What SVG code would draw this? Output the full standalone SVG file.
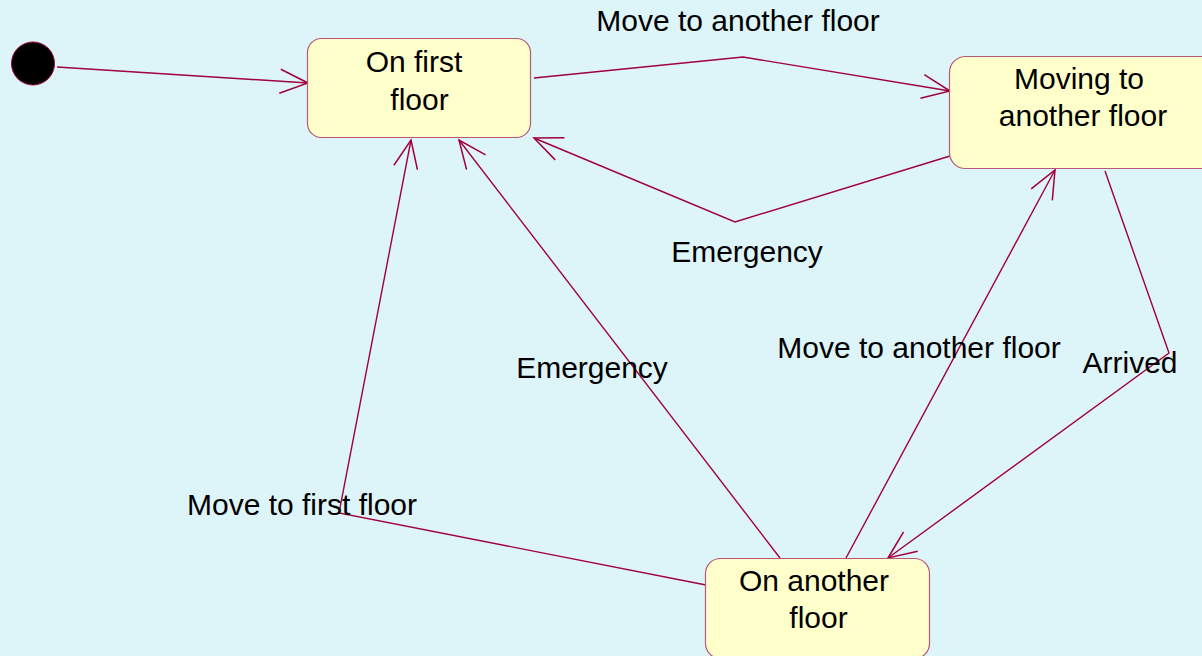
<svg xmlns="http://www.w3.org/2000/svg" width="1202" height="656" viewBox="0 0 1202 656">
  <defs>
    <style>
      .state { fill: #FFFFCC; stroke: #B8577A; stroke-width: 1.2; }
      .txt { font-family: "Liberation Sans", Arial, sans-serif; font-size: 30px; fill: #000; text-anchor: middle; }
      .edge { fill: none; stroke: #A0003C; stroke-width: 1.4; stroke-linejoin: miter; }
    </style>
    <marker id="open" markerUnits="userSpaceOnUse" markerWidth="40" markerHeight="40" viewBox="-35 -20 40 40" refX="0" refY="0" orient="auto" overflow="visible">
      <path d="M -28 -12 L 0 0 L -28 12" fill="none" stroke="#A0003C" stroke-width="1.5"/>
    </marker>
  </defs>

  <!-- canvas -->
  <rect x="0" y="0" width="1202" height="656" fill="#DDF4F9"/>

  <!-- transitions -->
  <g id="connectors">
    <path class="edge" d="M 57 67 L 308 83" marker-end="url(#open)"/>
    <path class="edge" d="M 534 78 L 743 57 L 950 91" marker-end="url(#open)"/>
    <path class="edge" d="M 950 156 L 735 222 L 534 138" marker-end="url(#open)"/>
    <path class="edge" d="M 780 558 L 459 140" marker-end="url(#open)"/>
    <path class="edge" d="M 706 585 L 339 513 L 411 140" marker-end="url(#open)"/>
    <path class="edge" d="M 846 558 L 1055 170" marker-end="url(#open)"/>
    <path class="edge" d="M 1105 171 L 1169 353 L 888 558" marker-end="url(#open)"/>
  </g>

  <!-- transition labels -->
  <g id="labels">
    <text class="txt" x="738" y="31">Move to another floor</text>
    <text class="txt" x="747" y="262">Emergency</text>
    <text class="txt" x="592" y="378">Emergency</text>
    <text class="txt" x="919" y="358">Move to another floor</text>
    <text class="txt" x="1130" y="373">Arrived</text>
    <text class="txt" x="302" y="515">Move to first floor</text>
  </g>

  <!-- initial pseudo-state -->
  <g id="initial">
    <circle cx="33" cy="63.5" r="21.5" fill="#000" stroke="#A0003C" stroke-width="1"/>
  </g>

  <g id="on-first-floor">
    <rect class="state" x="307.5" y="38.5" width="223" height="99" rx="14"/>
    <text class="txt" x="414" y="72">On first</text>
    <text class="txt" x="419.5" y="110">floor</text>
  </g>

  <g id="moving-to-another-floor">
    <rect class="state" x="949.5" y="56.5" width="280" height="112" rx="16"/>
    <text class="txt" x="1079" y="89">Moving to</text>
    <text class="txt" x="1083" y="126">another floor</text>
  </g>

  <g id="on-another-floor">
    <rect class="state" x="705.5" y="558.5" width="224" height="100" rx="15"/>
    <text class="txt" x="814" y="591">On another</text>
    <text class="txt" x="818.5" y="628">floor</text>
  </g>
</svg>
